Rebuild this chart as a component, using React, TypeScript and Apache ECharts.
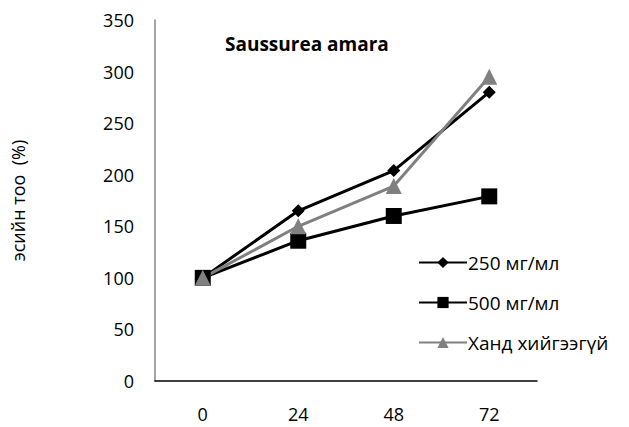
import React, { useEffect, useRef } from "react";
import * as echarts from "echarts";

const categories = ["0", "24", "48", "72"];
const s250 = [100, 165, 204, 280];
const s500 = [100, 136, 160, 179];
const control = [100, 150, 189, 295];
const seriesNames = ["250 мг/мл", "500 мг/мл", "Ханд хийгээгүй"];
const yTicks = { min: 0, max: 350, interval: 50 };

const FONT = "'Open Sans', 'Noto Sans', sans-serif";

export default function App() {
  const ref = useRef<HTMLDivElement>(null);
  useEffect(() => {
    if (!ref.current) return;
    const chart = echarts.init(ref.current, undefined, { renderer: "svg" });
    chart.setOption({
      animation: false,
      backgroundColor: "#ffffff",
      title: {
        text: "Saussurea amara",
        left: 220,
        top: 29,
        textStyle: { fontFamily: FONT, fontSize: 19, fontWeight: "bold", color: "#000" },
      },
      grid: { left: 155, right: 92, top: 20, bottom: 46 },
      legend: {
        orient: "vertical",
        left: 413,
        top: 248,
        itemWidth: 48,
        itemHeight: 14,
        itemGap: 21,
        textStyle: { fontFamily: FONT, fontSize: 19, color: "#000", padding: [0, 0, 0, -4] },
        data: seriesNames,
      },
      xAxis: {
        type: "category",
        data: categories,
        boundaryGap: true,
        axisLine: { lineStyle: { color: "#000", width: 1.5 } },
        axisTick: { show: false },
        axisLabel: { fontFamily: FONT, fontSize: 18, color: "#000", margin: 24 },
        splitLine: { show: false },
      },
      yAxis: {
        type: "value",
        min: yTicks.min,
        max: yTicks.max,
        interval: yTicks.interval,
        name: "эсийн тоо  (%)",
        nameLocation: "middle",
        nameGap: 128,
        nameRotate: 90,
        nameTextStyle: { fontFamily: FONT, fontSize: 18, color: "#000" },
        axisLine: { show: true, lineStyle: { color: "#868686", width: 1.5 } },
        axisTick: { show: false },
        axisLabel: { fontFamily: FONT, fontSize: 18, color: "#000", margin: 21 },
        splitLine: { show: false },
      },
      series: [
        {
          name: seriesNames[0],
          type: "line",
          data: s250,
          symbol: "diamond",
          symbolSize: 13,
          lineStyle: { color: "#000", width: 3 },
          itemStyle: { color: "#000" },
        },
        {
          name: seriesNames[1],
          type: "line",
          data: s500,
          symbol: "rect",
          symbolSize: 16,
          lineStyle: { color: "#000", width: 3 },
          itemStyle: { color: "#000" },
        },
        {
          name: seriesNames[2],
          type: "line",
          data: control,
          symbol: "triangle",
          symbolSize: 16,
          lineStyle: { color: "#808080", width: 3 },
          itemStyle: { color: "#808080" },
        },
      ],
    });
    return () => chart.dispose();
  }, []);
  return <div ref={ref} style={{ width: 629, height: 427, position: "absolute", left: 0, top: 0 }} />;
}
